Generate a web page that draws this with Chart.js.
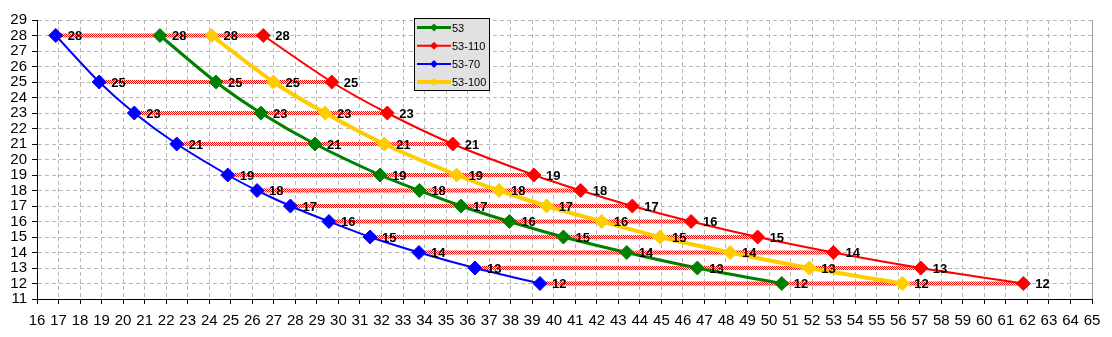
<!DOCTYPE html>
<html><head><meta charset="utf-8">
<script src="https://cdn.jsdelivr.net/npm/chart.js@4/dist/chart.umd.min.js"></script>
<style>html,body{margin:0;padding:0;background:#fff}#wrap{width:1112px;height:337px;position:relative}</style>
</head><body><div id="wrap"><canvas id="c"></canvas></div>
<script>
const yLevels = [28,25,23,21,19,18,17,16,15,14,13,12];
const x53     = [21.71,24.31,26.40,28.91,31.93,33.76,35.69,37.94,40.45,43.39,46.67,50.59];
const x53_110 = [26.51,29.69,32.27,35.31,39.08,41.25,43.65,46.38,49.47,52.99,57.05,61.81];
const x53_70  = [16.87,18.89,20.52,22.49,24.86,26.22,27.77,29.56,31.47,33.74,36.34,39.36];
const x53_100 = [24.11,26.98,29.38,32.13,35.49,37.46,39.67,42.23,44.94,48.19,51.87,56.19];
const seriesNames = ['53','53-110','53-70','53-100'];
const xMin = 16, xMax = 65, yMin = 11, yMax = 29;

const seriesX = [x53, x53_110, x53_70, x53_100];
const colors = ['#008000','#ff0000','#0000ff','#ffcc00'];
const widths = [3,2,2,4];

const pc = document.createElement('canvas'); pc.width = 2; pc.height = 2;
const pctx = pc.getContext('2d');
pctx.fillStyle = '#ffffff'; pctx.fillRect(0,0,2,2);
pctx.fillStyle = '#ff0000'; pctx.fillRect(0,0,1,1); pctx.fillRect(1,1,1,1);
const hatch = pctx.createPattern(pc,'repeat');

const datasets = [];
seriesX.forEach((xs, i) => {
  datasets.push({
    label: seriesNames[i],
    data: xs.map((x, k) => ({x: x, y: yLevels[k]})),
    borderColor: colors[i], backgroundColor: colors[i],
    borderWidth: widths[i], pointStyle: 'rectRot', pointRadius: 7,
    pointBorderColor: colors[i], pointBackgroundColor: colors[i], pointBorderWidth: 1,
    tension: 0.3, fill: false, isSeries: true
  });
});
yLevels.forEach((y, k) => {
  datasets.push({
    label: 'h' + y,
    data: [{x: x53_70[k], y: y}, {x: x53_110[k], y: y}],
    borderColor: hatch, borderWidth: 4, pointRadius: 0, borderCapStyle: 'butt',
    tension: 0, fill: false, isSeries: false
  });
});

const labelPlugin = {
  id: 'vlabels',
  afterDatasetsDraw(chart) {
    const ctx = chart.ctx;
    ctx.save();
    ctx.font = 'bold 13px "Liberation Sans", Arial, sans-serif';
    ctx.fillStyle = '#000';
    ctx.textAlign = 'left'; ctx.textBaseline = 'middle';
    chart.data.datasets.forEach((ds, i) => {
      if (!ds.isSeries) return;
      const meta = chart.getDatasetMeta(i);
      meta.data.forEach((pt, k) => {
        ctx.fillText(String(yLevels[k]), pt.x + 12, pt.y + 1);
      });
    });
    ctx.restore();
  }
};

const legendPlugin = {
  id: 'boxlegend',
  afterDraw(chart) {
    const ctx = chart.ctx;
    const ca = chart.chartArea;
    ctx.save();
    ctx.strokeStyle = '#a0a0a0'; ctx.lineWidth = 1;
    ctx.beginPath(); ctx.moveTo(Math.round(ca.right)+0.5, ca.top); ctx.lineTo(Math.round(ca.right)+0.5, ca.bottom); ctx.stroke();
    const bx = 414.5, by = 18.5, bw = 75, bh = 72;
    ctx.fillStyle = '#e1e1e1'; ctx.fillRect(bx, by, bw, bh);
    ctx.strokeStyle = '#000'; ctx.lineWidth = 1; ctx.strokeRect(bx, by, bw, bh);
    ctx.font = '11px "Liberation Sans", Arial, sans-serif';
    ctx.textAlign = 'left'; ctx.textBaseline = 'middle';
    for (let i = 0; i < 4; i++) {
      const ds = chart.data.datasets[i];
      const yy = 27.5 + i * 18.2;
      ctx.strokeStyle = ds.borderColor; ctx.lineWidth = ds.borderWidth;
      ctx.beginPath(); ctx.moveTo(417, yy); ctx.lineTo(451, yy); ctx.stroke();
      ctx.fillStyle = ds.borderColor;
      ctx.beginPath(); ctx.moveTo(434, yy-4); ctx.lineTo(438, yy); ctx.lineTo(434, yy+4); ctx.lineTo(430, yy); ctx.closePath(); ctx.fill();
      ctx.fillStyle = '#000';
      ctx.fillText(ds.label, 452, yy + 1);
    }
    ctx.restore();
  }
};

new Chart(document.getElementById('c'), {
  type: 'line',
  data: { datasets: datasets },
  plugins: [labelPlugin, legendPlugin],
  options: {
    responsive: true, maintainAspectRatio: false, animation: false,
    layout: { padding: { top: 20, right: 20, left: 0, bottom: 0 } },
    plugins: { legend: { display: false }, tooltip: { enabled: false } },
    scales: {
      x: {
        type: 'linear', min: xMin, max: xMax,
        afterFit(s) { s.height = 38; },
        ticks: { stepSize: 1, color: '#000', padding: 8, maxRotation: 0, autoSkip: false,
          font: { family: '"Liberation Sans Narrow", "Liberation Sans", Arial, sans-serif', size: 15 } },
        grid: { color: '#b8b8b8', tickColor: '#000', tickLength: 5, tickBorderDash: [], drawTicks: true },
        border: { color: '#000', width: 1, dash: [4,3] }
      },
      y: {
        type: 'linear', min: yMin, max: yMax,
        afterFit(s) { s.width = 37; },
        ticks: { stepSize: 1, color: '#000', padding: 5, autoSkip: false,
          font: { family: '"Liberation Sans", Arial, sans-serif', size: 15 } },
        grid: { color: '#b8b8b8', tickColor: '#000', tickLength: 5, tickBorderDash: [], drawTicks: true },
        border: { color: '#000', width: 1, dash: [4,3] }
      }
    }
  }
});
</script></body></html>
